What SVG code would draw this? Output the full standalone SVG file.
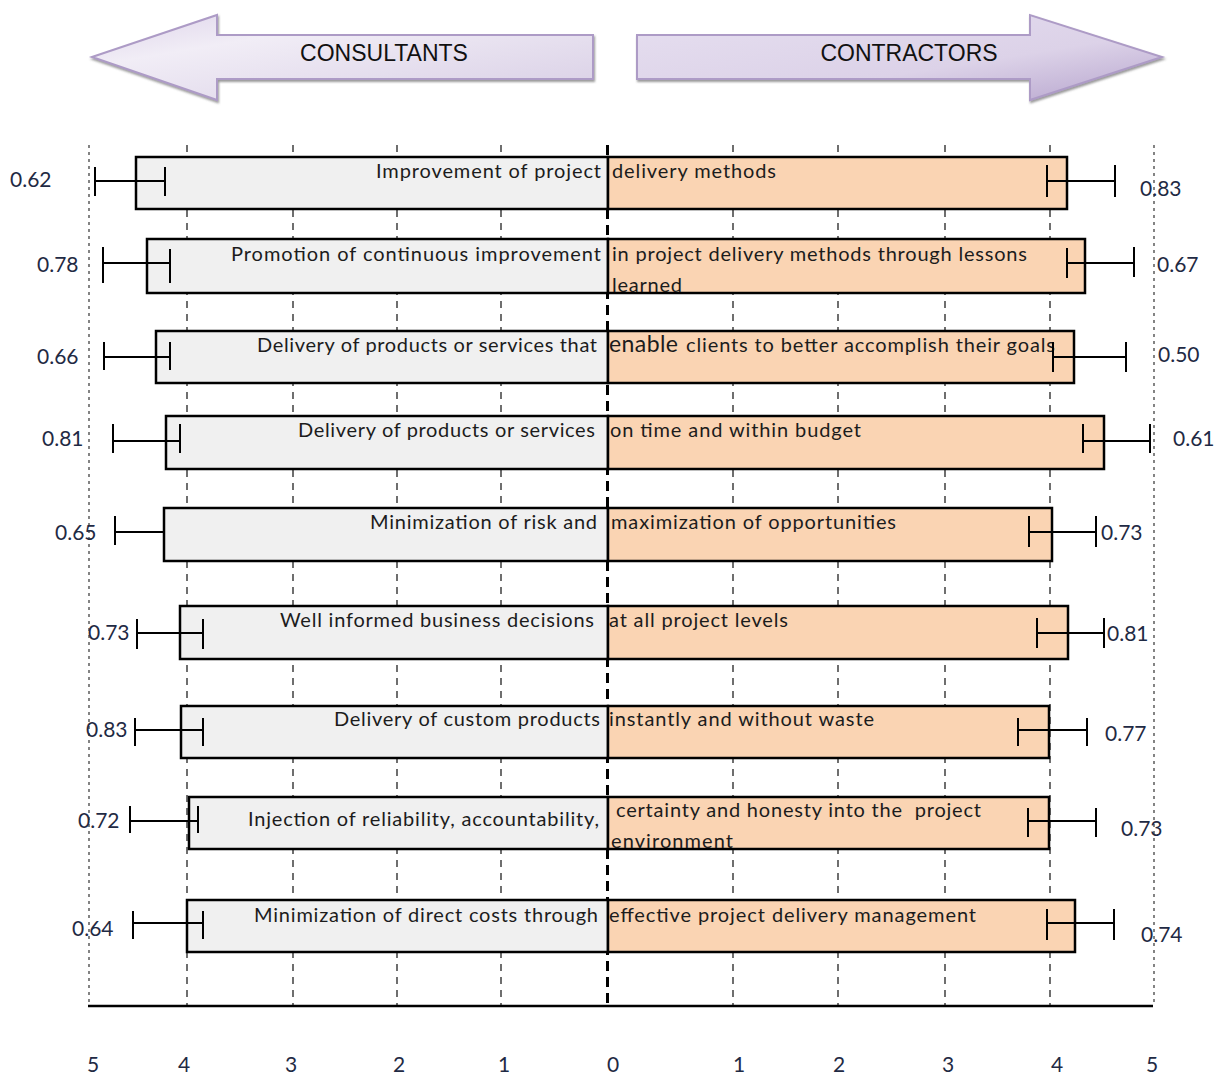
<svg xmlns="http://www.w3.org/2000/svg" width="1226" height="1077" viewBox="0 0 1226 1077">
<style>
.grid{stroke:#222;stroke-width:1.3;stroke-dasharray:7 6;fill:none}
.gridEdge{stroke:#333;stroke-width:1.2;stroke-dasharray:3 4;fill:none}
.center{stroke:#000;stroke-width:3;stroke-dasharray:10 6;fill:none}
.barL{fill:#f0f0f0;stroke:#000;stroke-width:2.5}
.barR{fill:#fad4b3;stroke:#000;stroke-width:2.5}
.err{stroke:#000;stroke-width:2;fill:none}
.lbl{font-family:Lato,"Open Sans",sans-serif;font-size:20px;fill:#1c1c1c;white-space:pre}
.num{font-family:Lato,"Open Sans",sans-serif;font-size:21px;fill:#1f2a44}
.ax{font-family:Lato,"Open Sans",sans-serif;font-size:21px;fill:#1f2a44;text-anchor:middle}
.arrowT{font-family:"Liberation Sans",Arial,sans-serif;font-size:23px;fill:#111;text-anchor:middle}
.arrow{stroke:#ad9bc6;stroke-width:2;filter:url(#sh)}
</style>
<defs>
<linearGradient id="gL" x1="0" y1="0" x2="1" y2="1">
<stop offset="0" stop-color="#ded4ea"/>
<stop offset="0.3" stop-color="#f1edf6"/>
<stop offset="1" stop-color="#d8cee5"/>
</linearGradient>
<linearGradient id="gR" x1="0" y1="0" x2="1" y2="1">
<stop offset="0" stop-color="#e6dff0"/>
<stop offset="0.6" stop-color="#dcd2e8"/>
<stop offset="1" stop-color="#b6a4cd"/>
</linearGradient>
<filter id="sh" x="-5%" y="-20%" width="110%" height="150%">
<feDropShadow dx="1" dy="2" stdDeviation="1" flood-color="#555" flood-opacity="0.6"/>
</filter>
</defs>

<g id="arrow-consultants">
<polygon class="arrow" fill="url(#gL)" points="92,57 217,15 217,35 593,35 593,79 217,79 217,100"/>
<text class="arrowT" x="384" y="61">CONSULTANTS</text>
</g>
<g id="arrow-contractors">
<polygon class="arrow" fill="url(#gR)" points="637,35 1030,35 1030,15 1162,57 1030,100 1030,79 637,79"/>
<text class="arrowT" x="909" y="61">CONTRACTORS</text>
</g>

<g id="grid">
<line class="gridEdge" x1="89" y1="145" x2="89" y2="1006"/>
<line class="grid" x1="187" y1="145" x2="187" y2="1006"/>
<line class="grid" x1="293" y1="145" x2="293" y2="1006"/>
<line class="grid" x1="397" y1="145" x2="397" y2="1006"/>
<line class="grid" x1="501" y1="145" x2="501" y2="1006"/>
<line class="grid" x1="733" y1="145" x2="733" y2="1006"/>
<line class="grid" x1="838" y1="145" x2="838" y2="1006"/>
<line class="grid" x1="945" y1="145" x2="945" y2="1006"/>
<line class="grid" x1="1050" y1="145" x2="1050" y2="1006"/>
<line class="gridEdge" x1="1154" y1="145" x2="1154" y2="1006"/>
<line class="center" x1="607.5" y1="145" x2="607.5" y2="1006"/>
<line x1="88" y1="1006" x2="1153" y2="1006" stroke="#000" stroke-width="2.5"/>
</g>

<g id="axis-labels">
<text class="ax" x="93" y="1072">5</text>
<text class="ax" x="184" y="1072">4</text>
<text class="ax" x="291" y="1072">3</text>
<text class="ax" x="399" y="1072">2</text>
<text class="ax" x="504" y="1072">1</text>
<text class="ax" x="613" y="1072">0</text>
<text class="ax" x="739" y="1072">1</text>
<text class="ax" x="839" y="1072">2</text>
<text class="ax" x="948" y="1072">3</text>
<text class="ax" x="1057" y="1072">4</text>
<text class="ax" x="1152" y="1072">5</text>
</g>

<g id="row1">
<rect class="barL" x="136" y="157" width="472" height="52"/>
<rect class="barR" x="608" y="157" width="459" height="52"/>
<text class="lbl" x="376" y="178" textLength="225">Improvement of project</text>
<text class="lbl" x="612" y="178" textLength="164">delivery methods</text>
<path class="err" d="M95,181H165M95,167V196M165,167V196"/>
<path class="err" d="M1047,181H1115M1047,165V197M1115,165V197"/>
<text class="num" x="10" y="187">0.62</text>
<text class="num" x="1140" y="196">0.83</text>
</g>

<g id="row2">
<rect class="barL" x="147" y="239" width="461" height="54"/>
<rect class="barR" x="608" y="239" width="477" height="54"/>
<text class="lbl" x="231" y="261" textLength="370">Promotion of continuous improvement</text>
<text class="lbl" x="612" y="261" textLength="415">in project delivery methods through lessons</text>
<text class="lbl" x="612" y="292" textLength="70">learned</text>
<path class="err" d="M103,263H170M103,247V283M170,249V283"/>
<path class="err" d="M1067,263H1134M1067,248V278M1134,247V277"/>
<text class="num" x="37" y="272">0.78</text>
<text class="num" x="1157" y="272">0.67</text>
</g>

<g id="row3">
<rect class="barL" x="156" y="331" width="452" height="52"/>
<rect class="barR" x="608" y="331" width="466" height="52"/>
<text class="lbl" x="257" y="352" textLength="340">Delivery of products or services that</text>
<text class="lbl" x="609" y="352" style="font-size:23px" textLength="69">enable</text>
<text class="lbl" x="686" y="352" textLength="369">clients to better accomplish their goals</text>
<path class="err" d="M104,357H170M104,342V370M170,342V370"/>
<path class="err" d="M1053,357H1126M1053,342V372M1126,342V372"/>
<text class="num" x="37" y="364">0.66</text>
<text class="num" x="1158" y="362">0.50</text>
</g>

<g id="row4">
<rect class="barL" x="166" y="416" width="442" height="53"/>
<rect class="barR" x="608" y="416" width="496" height="53"/>
<text class="lbl" x="298" y="437" textLength="297">Delivery of products or services</text>
<text class="lbl" x="610" y="437" textLength="251">on time and within budget</text>
<path class="err" d="M113,441H180M113,424V453M180,424V453"/>
<path class="err" d="M1083,441H1150M1083,424V453M1150,424V453"/>
<text class="num" x="42" y="446">0.81</text>
<text class="num" x="1173" y="446">0.61</text>
</g>

<g id="row5">
<rect class="barL" x="164" y="508" width="444" height="53"/>
<rect class="barR" x="608" y="508" width="444" height="53"/>
<text class="lbl" x="370" y="529" textLength="227">Minimization of risk and</text>
<text class="lbl" x="611" y="529" textLength="285">maximization of opportunities</text>
<path class="err" d="M115,532H164M115,516V545"/>
<path class="err" d="M1029,532H1096M1029,516V547M1096,516V547"/>
<text class="num" x="55" y="540">0.65</text>
<text class="num" x="1101" y="540">0.73</text>
</g>

<g id="row6">
<rect class="barL" x="180" y="606" width="428" height="53"/>
<rect class="barR" x="608" y="606" width="460" height="53"/>
<text class="lbl" x="280" y="627" textLength="314">Well informed business decisions</text>
<text class="lbl" x="609" y="627" textLength="179">at all project levels</text>
<path class="err" d="M137,633H203M137,619V649M203,619V649"/>
<path class="err" d="M1037,633H1104M1037,618V648M1104,618V648"/>
<text class="num" x="88" y="640">0.73</text>
<text class="num" x="1107" y="641">0.81</text>
</g>

<g id="row7">
<rect class="barL" x="181" y="706" width="427" height="52"/>
<rect class="barR" x="608" y="706" width="441" height="52"/>
<text class="lbl" x="334" y="726" textLength="266">Delivery of custom products</text>
<text class="lbl" x="609" y="726" textLength="265">instantly and without waste</text>
<path class="err" d="M135,730H203M135,718V746M203,718V746"/>
<path class="err" d="M1018,730H1087M1018,718V746M1087,718V746"/>
<text class="num" x="86" y="737">0.83</text>
<text class="num" x="1105" y="741">0.77</text>
</g>

<g id="row8">
<rect class="barL" x="189" y="797" width="419" height="52"/>
<rect class="barR" x="608" y="797" width="441" height="52"/>
<text class="lbl" x="248" y="826" textLength="351">Injection of reliability, accountability,</text>
<text class="lbl" x="616" y="817" textLength="365">certainty and honesty into the  project</text>
<text class="lbl" x="611" y="848" textLength="122">environment</text>
<path class="err" d="M130,821H198M130,806V833M198,806V833"/>
<path class="err" d="M1028,821H1096M1028,808V837M1096,808V837"/>
<text class="num" x="78" y="828">0.72</text>
<text class="num" x="1121" y="836">0.73</text>
</g>

<g id="row9">
<rect class="barL" x="187" y="900" width="421" height="52"/>
<rect class="barR" x="608" y="900" width="467" height="52"/>
<text class="lbl" x="254" y="922" textLength="344">Minimization of direct costs through</text>
<text class="lbl" x="609" y="922" textLength="367">effective project delivery management</text>
<path class="err" d="M133,923H203M133,911V939M203,911V939"/>
<path class="err" d="M1047,923H1114M1047,909V940M1114,909V940"/>
<text class="num" x="72" y="936">0.64</text>
<text class="num" x="1141" y="942">0.74</text>
</g>
</svg>
